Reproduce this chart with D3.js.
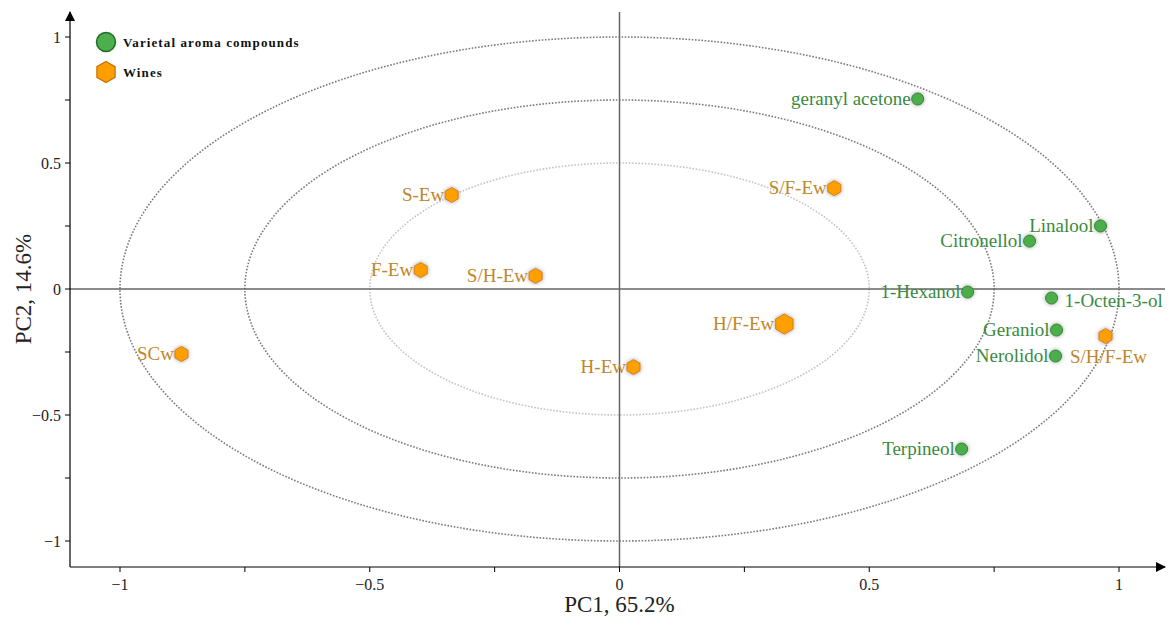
<!DOCTYPE html>
<html>
<head>
<meta charset="utf-8">
<script src="https://cdn.jsdelivr.net/npm/d3@7"></script>
<style>
  body { margin: 0; background: #fff; }
  text { font-family: "Liberation Serif", "Times New Roman", serif; }
</style>
</head>
<body>
<svg width="1172" height="619"></svg>
<script>
// Varietal aroma compounds (loadings)
var compoundNames = ["geranyl acetone", "Linalool", "Citronellol", "1-Hexanol", "1-Octen-3-ol", "Geraniol", "Nerolidol", "Terpineol"];
var compoundPC1   = [0.597, 0.963, 0.821, 0.697, 0.865, 0.875, 0.873, 0.685];
var compoundPC2   = [0.754, 0.250, 0.190, -0.012, -0.036, -0.163, -0.266, -0.635];

// Wines (scores)
var wineNames = ["S-Ew", "S/F-Ew", "F-Ew", "S/H-Ew", "H/F-Ew", "SCw", "H-Ew", "S/H/F-Ew"];
var winePC1   = [-0.336, 0.430, -0.398, -0.168, 0.330, -0.877, 0.028, 0.973];
var winePC2   = [0.373, 0.400, 0.075, 0.052, -0.139, -0.258, -0.310, -0.187];

var ellipseRadii = [1, 0.75, 0.5];
var majorTicks = [-1, -0.5, 0, 0.5, 1];
var minorTicks = [-0.75, -0.25, 0.25, 0.75];

// Label placement (default: left of the point)
var labelSide = {"1-Octen-3-ol": "right", "S/H/F-Ew": "below"};
var bigMarker = {"H/F-Ew": true};

var svg = d3.select("svg");

var x = d3.scaleLinear().domain([-1, 1]).range([120, 1119]);
var y = d3.scaleLinear().domain([-1, 1]).range([541, 37]);

var axL = 70, axB = 567, axR = 1165, axT = 12;

// drop shadow for markers
var defs = svg.append("defs");
var f = defs.append("filter").attr("id", "shadow")
  .attr("x", "-60%").attr("y", "-60%").attr("width", "220%").attr("height", "220%");
f.append("feDropShadow").attr("dx", 0).attr("dy", 0).attr("stdDeviation", 2)
  .attr("flood-color", "#777").attr("flood-opacity", 0.7);

defs.append("marker").attr("id", "arrow")
  .attr("viewBox", "0 0 10 10").attr("refX", 9).attr("refY", 5)
  .attr("markerWidth", 10).attr("markerHeight", 10)
  .attr("markerUnits", "userSpaceOnUse")
  .attr("orient", "auto")
  .append("path").attr("d", "M0,0 L10,5 L0,10 z").attr("fill", "#000");

// ellipses
svg.append("g").selectAll("ellipse")
  .data(ellipseRadii)
  .enter().append("ellipse")
    .attr("cx", x(0)).attr("cy", y(0))
    .attr("rx", function(r){ return x(r) - x(0) })
    .attr("ry", function(r){ return y(0) - y(r) })
    .attr("fill", "none")
    .attr("stroke", function(r){ return r == 0.5 ? "#c4c4c4" : "#7a7a7a" })
    .attr("stroke-width", 1.6)
    .attr("stroke-dasharray", "1.6,1.6");

// zero lines
svg.append("line").attr("x1", axL).attr("x2", axR).attr("y1", y(0)).attr("y2", y(0))
  .attr("stroke", "#666").attr("stroke-width", 1.5);
svg.append("line").attr("x1", x(0)).attr("x2", x(0)).attr("y1", axT).attr("y2", axB)
  .attr("stroke", "#666").attr("stroke-width", 1.5);

// axes lines with arrows
svg.append("line").attr("x1", axL).attr("x2", axR).attr("y1", axB).attr("y2", axB)
  .attr("stroke", "#000").attr("stroke-width", 1.2).attr("marker-end", "url(#arrow)");
svg.append("line").attr("x1", axL).attr("x2", axL).attr("y1", axB).attr("y2", axT)
  .attr("stroke", "#000").attr("stroke-width", 1.2).attr("marker-end", "url(#arrow)");

var fmt = function(d){ return d3.format("")(d).replace("-", "\u2212") };

// x ticks
var gx = svg.append("g");
gx.selectAll(".tk").data(majorTicks.concat(minorTicks)).enter().append("line")
  .attr("x1", function(d){ return x(d) }).attr("x2", function(d){ return x(d) })
  .attr("y1", axB).attr("y2", axB + 5)
  .attr("stroke", "#000").attr("stroke-width", 1);
gx.selectAll("text").data(majorTicks).enter().append("text")
  .attr("x", function(d){ return x(d) }).attr("y", axB + 23)
  .attr("text-anchor", "middle").attr("font-size", 16).attr("fill", "#222")
  .text(fmt);

// y ticks
var gy = svg.append("g");
gy.selectAll(".tk").data(majorTicks.concat(minorTicks)).enter().append("line")
  .attr("y1", function(d){ return y(d) }).attr("y2", function(d){ return y(d) })
  .attr("x1", axL - 5).attr("x2", axL)
  .attr("stroke", "#000").attr("stroke-width", 1);
gy.selectAll("text").data(majorTicks).enter().append("text")
  .attr("x", axL - 9).attr("y", function(d){ return y(d) + 6 })
  .attr("text-anchor", "end").attr("font-size", 16).attr("fill", "#222")
  .text(fmt);

// axis titles
svg.append("text").attr("x", x(0)).attr("y", 612)
  .attr("text-anchor", "middle").attr("font-size", 23).attr("fill", "#222")
  .text("PC1, 65.2%");
svg.append("text")
  .attr("transform", "translate(31," + y(0) + ") rotate(-90)")
  .attr("text-anchor", "middle").attr("font-size", 23).attr("fill", "#222")
  .text("PC2, 14.6%");

function hexPath(r){
  var pts = d3.range(6).map(function(i){
    var a = Math.PI / 3 * i - Math.PI / 2;
    return [r * Math.cos(a), r * Math.sin(a)];
  });
  return d3.line()(pts) + "Z";
}

var greenFill = "#4cae4c", greenStroke = "#2f8a34", greenText = "#3a8a3f";
var orangeFill = "#ff9f00", orangeStroke = "#d98000", orangeText = "#c0862a";

function addLabel(g, name, px, py, color, off){
  var side = labelSide[name] || "left";
  var t = g.append("text").attr("font-size", 19).attr("fill", color).text(name);
  if (side == "left") t.attr("x", px - off).attr("y", py + 6).attr("text-anchor", "end");
  else if (side == "right") t.attr("x", px + off + 6).attr("y", py + 9).attr("text-anchor", "start");
  else t.attr("x", px + 3).attr("y", py + 27).attr("text-anchor", "middle");
}

// compounds
var compounds = compoundNames.map(function(n, i){ return {name: n, pc1: compoundPC1[i], pc2: compoundPC2[i]} });
var gc = svg.append("g");
compounds.forEach(function(d){
  var px = x(d.pc1), py = y(d.pc2);
  gc.append("circle").attr("cx", px).attr("cy", py).attr("r", 6)
    .attr("fill", greenFill).attr("stroke", greenStroke).attr("stroke-width", 1)
    .attr("filter", "url(#shadow)");
  addLabel(gc, d.name, px, py, greenText, 7);
});

// wines
var wines = wineNames.map(function(n, i){ return {name: n, pc1: winePC1[i], pc2: winePC2[i]} });
var gw = svg.append("g");
wines.forEach(function(d){
  var px = x(d.pc1), py = y(d.pc2);
  var r = bigMarker[d.name] ? 10 : 7.5;
  gw.append("path").attr("d", hexPath(r))
    .attr("transform", "translate(" + px + "," + py + ")")
    .attr("fill", orangeFill).attr("stroke", orangeStroke).attr("stroke-width", 1)
    .attr("filter", "url(#shadow)");
  addLabel(gw, d.name, px, py, orangeText, r);
});

// legend
var lg = svg.append("g");
lg.append("circle").attr("cx", 106).attr("cy", 42).attr("r", 9.5)
  .attr("fill", greenFill).attr("stroke", "#1f6e25").attr("stroke-width", 1.5);
lg.append("path").attr("d", hexPath(10.5)).attr("transform", "translate(106,72)")
  .attr("fill", orangeFill).attr("stroke", "#c87400").attr("stroke-width", 1.3);
lg.append("text").attr("x", 123).attr("y", 47).attr("font-size", 13).attr("font-weight", "bold")
  .attr("letter-spacing", 1.1).attr("fill", "#111").text("Varietal aroma compounds");
lg.append("text").attr("x", 123).attr("y", 77).attr("font-size", 13).attr("font-weight", "bold")
  .attr("letter-spacing", 1.1).attr("fill", "#111").text("Wines");
</script>
</body>
</html>
